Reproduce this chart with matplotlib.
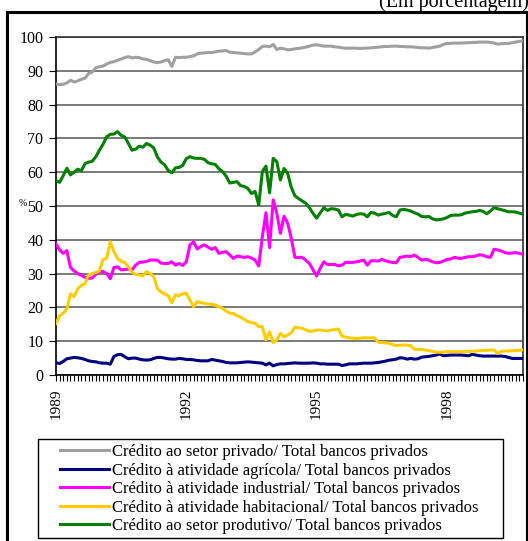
import numpy as np
import matplotlib
matplotlib.use("Agg")
import matplotlib.pyplot as plt
from matplotlib.patches import Rectangle

plt.rcParams['font.family'] = ['Liberation Serif', 'DejaVu Serif']

start_year = 1989
year_labels = [1989, 1992, 1995, 1998]

setor_privado = [86.1, 85.9, 86.0, 86.4, 87.2, 86.7, 87.0, 87.5, 87.8, 89.2, 89.6, 90.9, 91.2,
                 91.4, 92.0, 92.5, 92.7, 93.1, 93.5, 93.9, 94.2, 93.8, 94.0, 93.9, 93.5, 93.4,
                 93.0, 92.6, 92.4, 92.6, 93.0, 93.3, 91.3, 94.0, 93.9, 94.0, 94.0, 94.2, 94.4,
                 95.0, 95.2, 95.3, 95.4, 95.4, 95.6, 95.8, 95.9, 96.0, 95.5, 95.4, 95.3, 95.2,
                 95.1, 95.0, 95.0, 95.6, 96.3, 97.2, 97.3, 97.1, 97.8, 96.3, 96.7, 96.5, 96.2,
                 96.3, 96.5, 96.6, 96.8, 97.0, 97.3, 97.6, 97.7, 97.5, 97.3, 97.3, 97.3, 97.1,
                 97.0, 96.8, 96.7, 96.7, 96.7, 96.7, 96.6, 96.7, 96.7, 96.8, 96.9, 97.0, 97.1,
                 97.2, 97.2, 97.3, 97.3, 97.2, 97.2, 97.1, 97.1, 97.0, 96.9, 96.8, 96.8, 96.7,
                 96.9, 97.1, 97.3, 97.8, 98.1, 98.1, 98.2, 98.2, 98.2, 98.3, 98.3, 98.4, 98.4,
                 98.5, 98.5, 98.5, 98.4, 98.2, 97.9, 98.0, 98.1, 98.1, 98.3, 98.5, 98.7, 98.9]

agricola = [3.6, 3.4, 4.0, 4.8, 5.0, 5.2, 5.1, 4.9, 4.6, 4.2, 4.0, 3.9, 3.6, 3.5, 3.5, 3.2,
            5.5, 6.0, 6.1, 5.4, 4.8, 5.0, 5.0, 4.7, 4.5, 4.4, 4.5, 4.9, 5.2, 5.2, 5.0, 4.8,
            4.7, 4.7, 4.9, 4.8, 4.6, 4.6, 4.5, 4.3, 4.2, 4.2, 4.2, 4.6, 4.4, 4.2, 4.0, 3.7,
            3.6, 3.6, 3.6, 3.7, 3.8, 3.9, 3.8, 3.7, 3.6, 3.5, 3.0, 3.5, 2.7, 3.1, 3.3, 3.3,
            3.4, 3.5, 3.6, 3.5, 3.5, 3.5, 3.5, 3.6, 3.5, 3.3, 3.3, 3.2, 3.2, 3.2, 3.2, 2.8,
            3.0, 3.3, 3.3, 3.3, 3.4, 3.5, 3.5, 3.5, 3.6, 3.7, 3.9, 4.1, 4.4, 4.5, 4.7, 5.1,
            5.0, 4.7, 4.9, 4.7, 4.8, 5.3, 5.4, 5.5, 5.7, 5.9, 6.2, 5.7, 5.8, 5.9, 5.9, 5.9,
            5.9, 5.8, 5.7, 6.1, 5.9, 5.7, 5.6, 5.6, 5.6, 5.6, 5.6, 5.6, 5.5, 5.2, 4.9, 4.9,
            4.9, 4.9]

industrial = [38.8, 37.0, 36.0, 36.8, 31.8, 30.8, 30.0, 29.5, 28.9, 28.6, 28.7, 29.8, 30.6,
              30.6, 30.0, 28.5, 31.8, 32.0, 31.1, 31.2, 31.3, 31.1, 32.5, 33.3, 33.4, 33.6,
              34.0, 34.0, 34.0, 33.1, 33.0, 33.0, 33.5, 32.5, 33.0, 32.4, 33.5, 38.5, 39.4,
              37.3, 38.0, 38.5, 37.8, 37.2, 37.7, 36.0, 36.3, 36.5, 35.5, 34.5, 35.2, 35.0,
              34.8, 35.0, 34.6, 34.0, 32.3, 40.9, 48.0, 37.7, 51.8, 47.8, 41.9, 47.0, 44.9,
              40.4, 34.8, 34.8, 34.8, 34.0, 33.0, 31.1, 29.3, 31.6, 33.5, 32.7, 32.7, 32.7,
              32.3, 32.5, 33.3, 33.3, 33.3, 33.5, 33.7, 34.0, 32.5, 33.8, 33.8, 33.7, 34.2,
              33.8, 33.5, 33.3, 33.2, 34.8, 35.0, 35.2, 35.0, 35.5, 34.8, 34.0, 34.2, 34.0,
              33.5, 33.2, 33.3, 33.7, 34.2, 34.3, 34.8, 34.6, 34.5, 34.8, 35.0, 35.0, 35.2,
              35.6, 35.4, 35.0, 34.8, 37.2, 37.0, 36.7, 36.2, 36.0, 36.1, 36.2, 36.0, 35.7]

habitacional = [15.3, 17.5, 18.3, 19.5, 24.0, 23.2, 25.5, 26.5, 27.0, 29.6, 30.0, 30.3, 30.8,
                34.2, 34.5, 39.4, 36.5, 34.5, 33.6, 33.3, 32.0, 30.4, 29.8, 29.6, 29.3, 30.6,
                30.0, 29.1, 25.6, 24.6, 24.0, 23.5, 21.4, 23.7, 23.5, 24.0, 24.2, 22.2, 20.2,
                21.7, 21.4, 21.2, 21.0, 20.9, 20.7, 20.2, 19.7, 18.9, 18.3, 18.2, 17.6, 17.1,
                16.5, 15.8, 15.5, 15.3, 14.3, 14.3, 10.4, 12.8, 9.6, 10.4, 12.3, 11.3, 11.8,
                12.5, 14.1, 14.0, 13.8, 13.4, 12.9, 13.0, 13.3, 13.3, 13.2, 13.0, 13.3, 13.5,
                13.6, 11.5, 11.2, 11.0, 10.9, 10.8, 10.9, 11.0, 11.0, 11.0, 11.0, 9.7, 9.6,
                9.5, 9.4, 9.0, 8.7, 8.8, 8.9, 8.8, 8.7, 7.6, 7.6, 7.6, 7.4, 7.2, 7.0, 6.8,
                6.7, 6.8, 6.9, 6.9, 6.9, 6.9, 6.9, 6.9, 7.0, 7.0, 7.1, 7.2, 7.2, 7.3, 7.4,
                7.4, 6.4, 7.0, 7.1, 7.1, 7.2, 7.2, 7.3, 7.4]

produtivo = [57.5, 57.0, 59.0, 61.2, 59.2, 60.0, 60.9, 60.4, 62.5, 63.0, 63.2, 64.6, 66.5,
             68.3, 70.5, 71.2, 71.3, 72.0, 70.9, 70.4, 68.5, 66.5, 66.8, 67.7, 67.4, 68.5,
             68.0, 67.2, 64.5, 63.0, 62.2, 60.5, 59.8, 61.3, 61.4, 62.0, 64.0, 64.6, 64.2,
             64.1, 64.1, 63.8, 62.8, 62.5, 62.3, 61.0, 60.2, 58.8, 56.8, 57.0, 57.2, 56.0,
             55.8, 55.2, 53.7, 54.3, 50.3, 60.2, 61.8, 53.9, 64.1, 63.1, 57.7, 61.1, 59.6,
             55.5, 53.0, 52.2, 51.5, 50.8, 49.5, 47.8, 46.4, 48.0, 49.5, 48.7, 49.2, 49.1,
             48.8, 46.8, 47.5, 47.3, 47.0, 47.5, 47.7, 47.6, 46.8, 48.1, 47.9, 47.3, 47.6,
             47.8, 48.1, 47.2, 46.8, 48.8, 49.0, 48.8, 48.5, 48.0, 47.6, 46.9, 46.8, 46.9,
             46.2, 45.9, 46.0, 46.2, 46.6, 47.2, 47.3, 47.3, 47.4, 47.9, 48.1, 48.3, 48.4,
             48.7, 48.4, 47.7, 48.5, 49.5, 49.2, 48.9, 48.6, 48.3, 48.3, 48.2, 47.9, 47.6]

labels = ["Crédito ao setor privado/ Total bancos privados",
          "Crédito à atividade agrícola/ Total bancos privados",
          "Crédito à atividade industrial/ Total bancos privados",
          "Crédito à atividade habitacional/ Total bancos privados",
          "Crédito ao setor produtivo/ Total bancos privados"]
colors = ["#A0A0A0", "#000080", "#FF00FF", "#FFCC00", "#008000"]
series = [setor_privado, agricola, industrial, habitacional, produtivo]

W, H = 528, 541
fig = plt.figure(figsize=(W / 100, H / 100), dpi=100)
ax = fig.add_axes([56 / W, 1 - 375 / H, (523 - 56) / W, (375 - 37) / H])

n = len(setor_privado)
x = np.arange(n)
lines = []
for s, c, lab in zip(series, colors, labels):
    ln, = ax.plot(x, s, color=c, lw=2.2, label=lab, solid_joinstyle='round', zorder=3)
    lines.append(ln)

ax.set_xlim(0, n - 1)
ax.set_ylim(0, 100)
ax.set_yticks(np.arange(0, 101, 10))
ax.yaxis.grid(True, color="#6e6e6e", lw=1.3)
ax.set_axisbelow(True)

major = [(y - start_year) * 12 for y in year_labels]
ax.set_xticks(major)
ax.set_xticklabels([str(y) for y in year_labels], rotation=90, fontsize=11)
ax.set_xticks(np.arange(0, n), minor=True)
ax.tick_params(axis='x', which='both', length=4, width=0.8, direction='out', pad=6)
ax.tick_params(axis='y', length=5, width=0.8, labelsize=11.5, pad=4)

for side in ['top', 'right']:
    ax.spines[side].set_color("#303030")
    ax.spines[side].set_linewidth(1.2)
for side in ['left', 'bottom']:
    ax.spines[side].set_color("black")
    ax.spines[side].set_linewidth(1.2)

# small % marker beside the 50 tick label
fig.text(23 / W, 1 - 204 / H, "%", fontsize=7, ha='center', va='center')

# outer frame
fig.patches.append(Rectangle((7 / W, -0.01), (527 - 7) / W, (H - 12) / H + 0.01,
                             transform=fig.transFigure, fill=False, ec='black', lw=2.2))

fig.text(529 / W, 1 - 7 / H, "(Em porcentagem)", fontsize=14.5, ha='right', va='baseline')

# legend box
fig.patches.append(Rectangle((38 / W, 1 - 538 / H), (503 - 38) / W, (538 - 439) / H,
                             transform=fig.transFigure, fill=False, ec='black', lw=1.0))
leg = fig.legend(handles=lines, labels=labels, loc='upper left',
                 bbox_to_anchor=(60 / W, 1 - 444 / H), frameon=False,
                 fontsize=12, handlelength=2.95, handletextpad=0.18,
                 labelspacing=0.155, borderpad=0, borderaxespad=0)

fig.savefig("out.png", dpi=100)
